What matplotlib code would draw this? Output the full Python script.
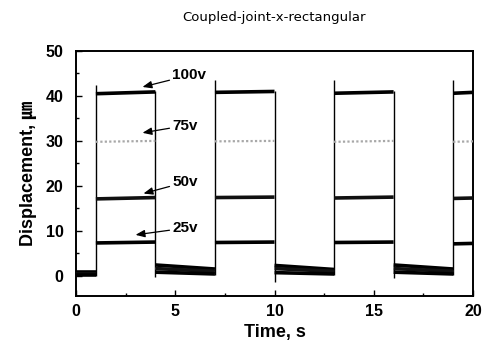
import matplotlib
matplotlib.use("Agg")
import matplotlib.pyplot as plt
from matplotlib.ticker import MultipleLocator

# ---- data ----
edges = [0, 1, 4, 7, 10, 13, 16, 19, 20]          # switching times, s
# each series: start/end value of every segment between edges (low, high, low, high ...)
seg_start_100 = [0.8, 40.5, 2.4, 40.8, 2.3, 40.6, 2.4, 40.6]
seg_end_100   = [0.8, 40.9, 1.5, 41.0, 1.4, 40.9, 1.5, 40.8]
seg_start_75  = [0.5, 29.8, 1.6, 29.9, 1.6, 29.8, 1.6, 29.8]
seg_end_75    = [0.5, 30.0, 1.0, 30.0, 1.0, 30.0, 1.0, 29.9]
seg_start_50  = [0.5, 17.1, 1.6, 17.4, 1.6, 17.3, 1.6, 17.2]
seg_end_50    = [0.5, 17.4, 1.0, 17.5, 1.0, 17.5, 1.0, 17.3]
seg_start_25  = [0.2, 7.3, 0.8, 7.4, 0.7, 7.4, 0.8, 7.1]
seg_end_25    = [0.2, 7.5, 0.4, 7.5, 0.4, 7.5, 0.4, 7.2]
# overshoot / undershoot at switching edges (100 V trace)
edge_times = [1, 4, 7, 10, 13, 16, 19]
edge_low   = [0.0, -0.3, 0.2, -1.3, 0.1, -0.5, 0.1]
edge_high  = [42.5, 41.0, 43.5, 41.0, 43.5, 41.0, 43.5]

labels = ["100v", "75v", "50v", "25v"]
label_xy = [(4.85, 44.6), (4.85, 33.4), (4.85, 20.8), (4.85, 10.6)]
arrow_tip = [(3.35, 42.0), (3.35, 31.8), (3.4, 18.3), (3.0, 9.1)]

series = [
    (seg_start_75, seg_end_75, "#a8a8a8", 1.6, (0, (1, 1))),
    (seg_start_100, seg_end_100, "black", 2.6, "-"),
    (seg_start_50, seg_end_50, "#111111", 2.6, "-"),
    (seg_start_25, seg_end_25, "black", 2.6, "-"),
]

fig = plt.figure(figsize=(4.89, 3.45), dpi=100)
ax = fig.add_axes([76 / 489, 1 - 296 / 345, (473 - 76) / 489, (296 - 51) / 345])

# thin vertical switching edges
ax.vlines(edge_times, edge_low, edge_high, colors="black", lw=1.0, zorder=2)

for starts, ends, col, lw, ls in series:
    for i in range(len(starts)):
        ax.plot([edges[i], edges[i + 1]], [starts[i], ends[i]],
                color=col, lw=lw, ls=ls, solid_capstyle="butt", zorder=3)

for lab, (tx, ty), (ax_, ay) in zip(labels, label_xy, arrow_tip):
    ax.annotate(lab, xy=(ax_, ay), xytext=(tx, ty), ha="left", va="center",
                fontsize=11, fontweight="bold", family="Liberation Sans",
                arrowprops=dict(arrowstyle="-|>,head_length=0.5,head_width=0.2",
                                color="black", lw=0.9, shrinkA=0, shrinkB=0))

ax.set_xlim(0, 20)
ax.set_ylim(-4.5, 50)
ax.xaxis.set_major_locator(MultipleLocator(5))
ax.xaxis.set_minor_locator(MultipleLocator(2.5))
ax.yaxis.set_major_locator(MultipleLocator(10))
ax.yaxis.set_minor_locator(MultipleLocator(5))
ax.tick_params(which="both", direction="in", width=1.0)
ax.tick_params(which="major", length=4, labelsize=11.5)
ax.tick_params(axis="y", which="major", pad=9)
ax.tick_params(axis="x", which="major", pad=6)
ax.tick_params(which="minor", length=2.5)
for lbl in ax.get_xticklabels() + ax.get_yticklabels():
    lbl.set_fontweight("bold")
    lbl.set_family("Liberation Sans")
for s in ax.spines.values():
    s.set_linewidth(1.4)

ax.set_xlabel("Time, s", fontsize=13, fontweight="bold", family="Liberation Sans", labelpad=3)
ax.set_ylabel("Displacement, ㎛", fontsize=13, fontweight="bold",
              family=["Liberation Sans", "Noto Sans CJK KR"], labelpad=6)
fig.text(274 / 489, 1 - 17 / 345, "Coupled-joint-x-rectangular", ha="center", va="center",
         fontsize=9.5, family="DejaVu Sans")

fig.savefig("out.png", dpi=100)
